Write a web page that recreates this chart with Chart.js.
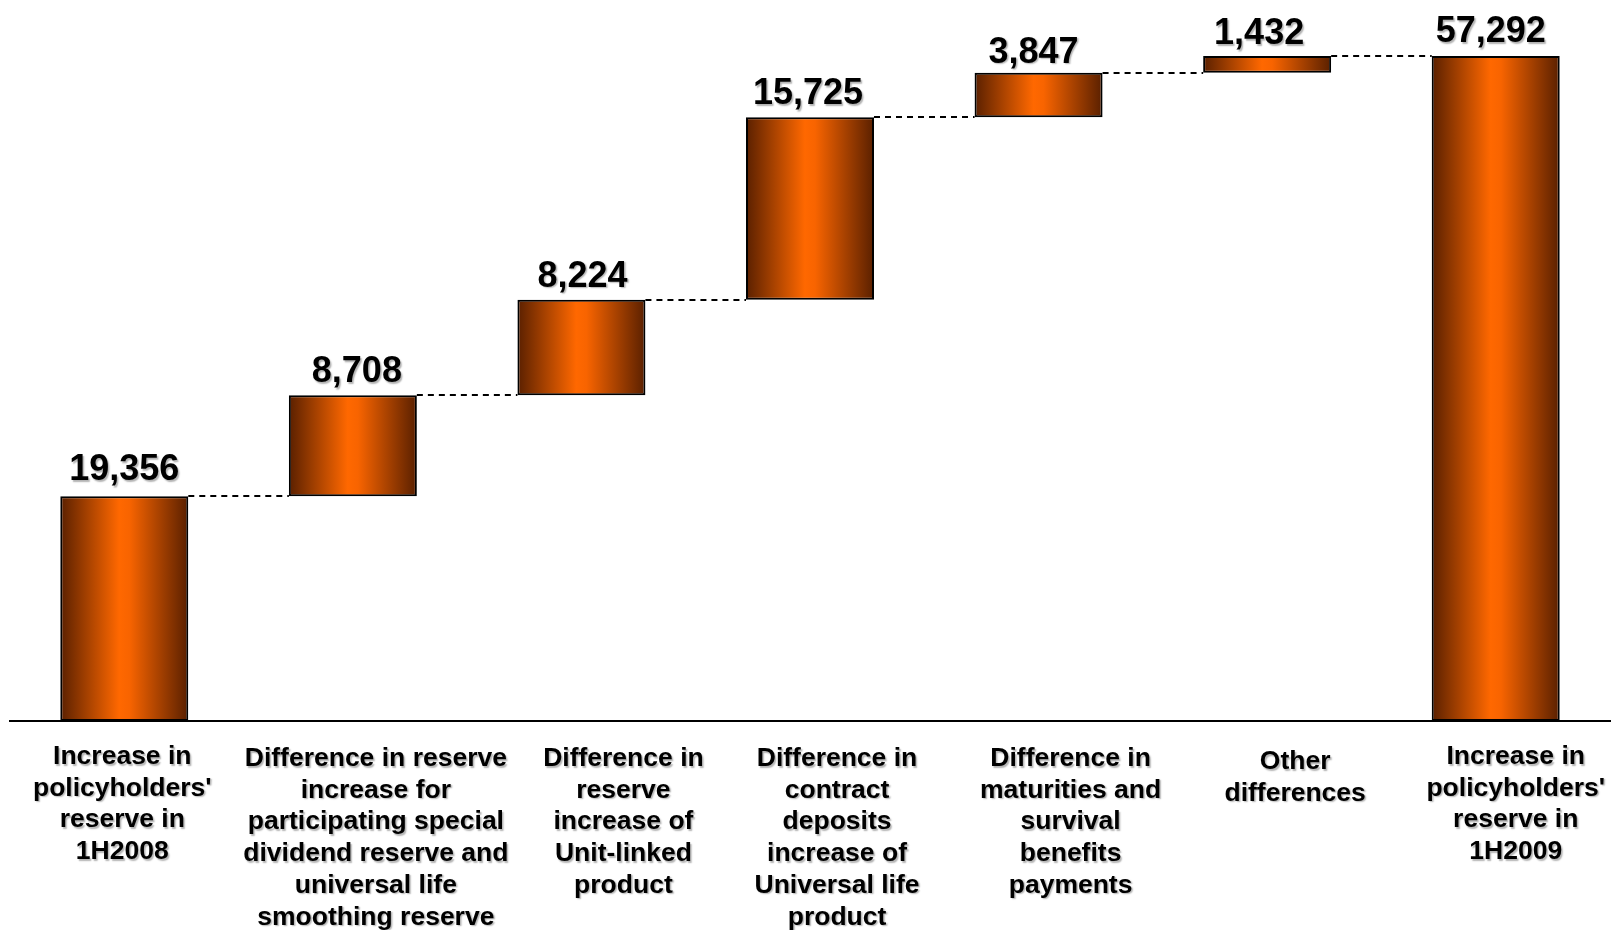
<!DOCTYPE html>
<html>
<head>
<meta charset="utf-8">
<script src="https://cdn.jsdelivr.net/npm/chart.js@4"></script>
<style>
    html, body { margin: 0; padding: 0; background: #fff; }
    #wrap { width: 1612px; height: 930px; }
</style>
</head>
<body>
<div id="wrap"><canvas id="reserveChart"></canvas></div>
<script>
// Categories, wrapped the way they are printed under the axis
const categories = [
    ['Increase in', "policyholders'", 'reserve in', '1H2008'],
    ['Difference in reserve', 'increase for', 'participating special', 'dividend reserve and', 'universal life', 'smoothing reserve'],
    ['Difference in', 'reserve', 'increase of', 'Unit-linked', 'product'],
    ['Difference in', 'contract', 'deposits', 'increase of', 'Universal life', 'product'],
    ['Difference in', 'maturities and', 'survival', 'benefits', 'payments'],
    ['Other', 'differences'],
    ['Increase in', "policyholders'", 'reserve in', '1H2009']
];

// Step sizes; the last entry is the closing total
const amounts = [19356, 8708, 8224, 15725, 3847, 1432, 57292];
const isTotal = [false, false, false, false, false, false, true];

// Nudges for the text boxes (px)
const catNudge = [[-2, -1], [23, 1], [42, 1], [27, 1], [32, 1], [28, 4], [20, -1]];
const valNudge = [[0, 16], [4, 13], [1, 13], [-2, 13], [-5, 10], [-8, 12], [-5, 14]];

const FONT = '"Liberation Sans", Arial, Helvetica, sans-serif';

// Build floating [from, to] ranges for the waterfall
const ranges = [];
let running = 0;
amounts.forEach(function (v, i) {
    if (isTotal[i]) {
        ranges.push([0, v]);
        running = v;
    } else {
        ranges.push([running, running + v]);
        running += v;
    }
});

const BAR_PCT = 0.56;

function barGradient(context) {
    const chart = context.chart;
    const xs = chart.scales.x;
    if (!xs || !chart.chartArea) return '#ff6600';
    const cx = xs.getPixelForValue(context.dataIndex);
    const half = (xs.width / categories.length) * BAR_PCT / 2;
    const g = chart.ctx.createLinearGradient(cx - half, 0, cx + half, 0);
    g.addColorStop(0, '#5a2000');
    g.addColorStop(0.46, '#ff6800');
    g.addColorStop(0.54, '#f86400');
    g.addColorStop(1, '#5a2000');
    return g;
}

// Dashed steps between neighbouring bars
const connectors = {
    id: 'connectors',
    afterDatasetsDraw(chart) {
        const meta = chart.getDatasetMeta(0);
        const ys = chart.scales.y;
        const ctx = chart.ctx;
        ctx.save();
        ctx.strokeStyle = '#000';
        ctx.lineWidth = 2;
        ctx.setLineDash([6, 5]);
        for (let i = 0; i < meta.data.length - 1; i++) {
            const a = meta.data[i];
            const b = meta.data[i + 1];
            const y = Math.round(ys.getPixelForValue(ranges[i][1]));
            ctx.beginPath();
            ctx.moveTo(a.x + a.width / 2, y);
            ctx.lineTo(b.x - b.width / 2, y);
            ctx.stroke();
        }
        ctx.restore();
    }
};

// Value labels above the bars and category text under the axis
const labelsPlugin = {
    id: 'labelsPlugin',
    afterDraw(chart) {
        const ctx = chart.ctx;
        const xs = chart.scales.x;
        const ys = chart.scales.y;
        ctx.save();
        ctx.shadowColor = 'rgba(0,0,0,0.3)';
        ctx.shadowOffsetX = 1.5;
        ctx.shadowOffsetY = 1.5;
        ctx.shadowBlur = 1.5;
        ctx.fillStyle = '#000';
        ctx.textAlign = 'center';
        ctx.textBaseline = 'alphabetic';

        ctx.font = 'bold 36px ' + FONT;
        amounts.forEach(function (v, i) {
            const x = xs.getPixelForValue(i) + valNudge[i][0];
            const y = ys.getPixelForValue(ranges[i][1]) - valNudge[i][1];
            ctx.fillText(v.toLocaleString('en-US'), x, y);
        });

        ctx.font = 'bold 26.5px ' + FONT;
        const base = chart.chartArea.bottom + 44;
        categories.forEach(function (lines, i) {
            const x = xs.getPixelForValue(i) + catNudge[i][0];
            lines.forEach(function (line, j) {
                ctx.fillText(line, x, base + catNudge[i][1] + j * 31.7);
            });
        });
        ctx.restore();
    }
};

new Chart(document.getElementById('reserveChart'), {
    type: 'bar',
    data: {
        labels: categories.map(function (c) { return c.join(' '); }),
        datasets: [{
            data: ranges,
            backgroundColor: barGradient,
            borderColor: '#000',
            borderWidth: 2,
            borderSkipped: false,
            barPercentage: BAR_PCT,
            categoryPercentage: 1
        }]
    },
    options: {
        responsive: true,
        maintainAspectRatio: false,
        animation: false,
        layout: {
            padding: { top: 24.6, left: 10, right: 2, bottom: 0 }
        },
        plugins: {
            legend: { display: false },
            tooltip: { enabled: false }
        },
        scales: {
            x: {
                grid: { display: false, drawTicks: false },
                border: { display: true, color: '#000', width: 2 },
                ticks: { display: false },
                afterFit: function (scale) { scale.height = 209; }
            },
            y: {
                display: false,
                min: 0,
                max: 60000
            }
        }
    },
    plugins: [connectors, labelsPlugin]
});
</script>
</body>
</html>
